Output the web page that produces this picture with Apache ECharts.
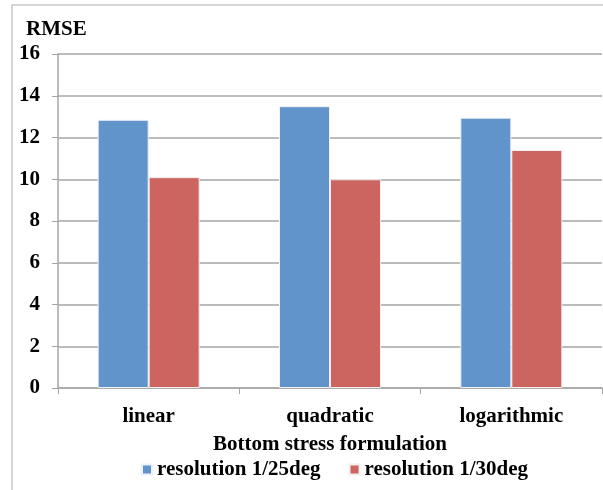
<!DOCTYPE html>
<html><head><meta charset="utf-8">
<script src="https://cdn.jsdelivr.net/npm/echarts@6/dist/echarts.min.js"></script>
<style>html,body{margin:0;padding:0;background:#fff}#c{width:603px;height:490px}</style>
</head><body><div id="c"></div>
<script>
const categories = ['linear', 'quadratic', 'logarithmic'];
const res25 = [12.85, 13.5, 12.95];
const res30 = [10.1, 10.0, 11.4];
const seriesNames = ['resolution 1/25deg', 'resolution 1/30deg'];
const yTicks = {min: 0, max: 16, interval: 2};

const font = 'Liberation Serif, Times New Roman, serif';
const fs = 21;
const chart = echarts.init(document.getElementById('c'));
chart.setOption({
  animation: false,
  textStyle: {fontFamily: font},
  graphic: [{type: 'rect', shape: {x: 12, y: 5, width: 620, height: 520}, style: {fill: 'none', stroke: '#c8c8c8', lineWidth: 1.5}, silent: true}],
  title: {text: 'RMSE', left: 21, top: 14, textStyle: {fontFamily: font, fontWeight: 'bold', fontSize: fs, color: '#000'}},
  legend: {left: 136, top: 454, itemWidth: 10, itemHeight: 10, itemGap: 28, icon: 'rect',
    textStyle: {fontFamily: font, fontWeight: 'bold', fontSize: fs, color: '#000'}},
  grid: {left: 58, right: 1, top: 54, bottom: 102},
  xAxis: {type: 'category', data: categories,
    axisLine: {lineStyle: {color: '#a6a6a6', width: 1.5}},
    axisTick: {show: true, length: 6, lineStyle: {color: '#a6a6a6'}},
    axisLabel: {fontFamily: font, fontWeight: 'bold', fontSize: fs, color: '#000', margin: 18},
    name: 'Bottom stress formulation', nameLocation: 'middle', nameGap: 46,
    nameTextStyle: {fontFamily: font, fontWeight: 'bold', fontSize: fs, color: '#000'}},
  yAxis: {type: 'value', min: yTicks.min, max: yTicks.max, interval: yTicks.interval,
    axisLine: {show: true, lineStyle: {color: '#a6a6a6', width: 1.5}},
    axisTick: {show: true, length: 6, lineStyle: {color: '#a6a6a6'}},
    splitLine: {lineStyle: {color: '#a6a6a6', width: 1.5}},
    axisLabel: {fontFamily: font, fontWeight: 'bold', fontSize: fs, color: '#000', margin: 18}},
  series: [
    {name: seriesNames[0], type: 'bar', data: res25, barWidth: 51, barGap: '0%',
      itemStyle: {color: '#6094ca', borderColor: '#eef2f7', borderWidth: 1}},
    {name: seriesNames[1], type: 'bar', data: res30, barWidth: 51, barGap: '0%',
      itemStyle: {color: '#cc6460', borderColor: '#f5eeee', borderWidth: 1}}
  ]
});
</script></body></html>
